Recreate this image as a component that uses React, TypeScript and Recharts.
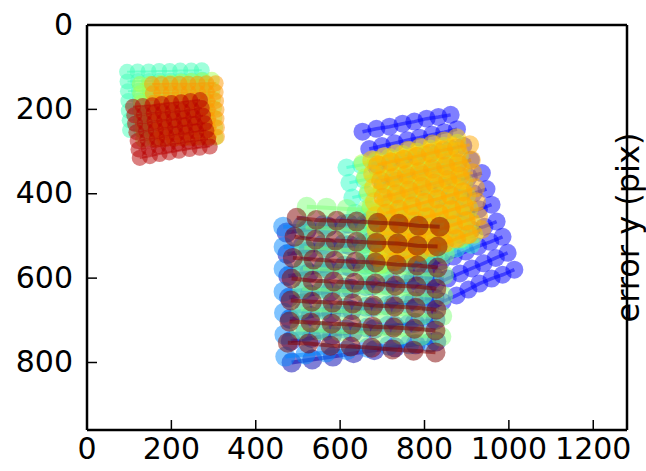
import { Scatter, ScatterChart, XAxis, YAxis } from "recharts";

const xTicks = [0, 200, 400, 600, 800, 1000, 1200];
const yTicks = [0, 200, 400, 600, 800];

// each inner array is one row of the grid
const deepBlueX = [
  [473, 522, 571, 620, 670, 719, 768, 817],
  [475, 524, 573, 622, 672, 721, 770, 819],
  [477, 526, 575, 624, 674, 723, 772, 821],
  [479, 528, 577, 626, 676, 725, 774, 823],
  [481, 530, 579, 628, 677, 726, 775, 824],
  [483, 532, 581, 630, 680, 729, 777, 826],
  [485, 534, 583, 632, 681, 730, 779, 828],
];
const deepBlueY = [
  [492, 485, 478, 471, 464, 457, 450, 443],
  [543, 536, 529, 522, 515, 508, 501, 494],
  [595, 588, 581, 574, 567, 560, 553, 546],
  [646, 639, 632, 625, 618, 611, 604, 597],
  [697, 690, 683, 676, 669, 662, 655, 648],
  [749, 742, 735, 728, 721, 713, 706, 699],
  [800, 793, 786, 778, 771, 764, 757, 750],
];

const blueX = [
  [653, 686, 717, 748, 776, 805, 833, 862],
  [669, 699, 729, 759, 788, 818, 847, 877],
  [685, 715, 744, 774, 803, 833, 862, 892],
  [701, 731, 761, 791, 820, 850, 880, 910],
  [717, 748, 780, 811, 842, 873, 905, 936],
  [733, 764, 794, 825, 855, 886, 916, 947],
  [750, 780, 810, 840, 869, 899, 929, 959],
  [766, 795, 825, 854, 883, 912, 942, 971],
  [782, 811, 840, 869, 898, 927, 956, 985],
  [798, 827, 855, 884, 912, 940, 969, 997],
  [814, 843, 876, 904, 930, 959, 985, 1013],
];
const blueY = [
  [253, 246, 241, 234, 229, 222, 218, 213],
  [294, 287, 280, 273, 267, 260, 254, 247],
  [336, 329, 322, 315, 307, 300, 293, 286],
  [377, 369, 361, 353, 344, 336, 328, 320],
  [419, 409, 399, 390, 380, 370, 360, 351],
  [460, 450, 440, 430, 419, 409, 399, 389],
  [501, 490, 479, 469, 458, 447, 437, 426],
  [543, 532, 520, 508, 497, 485, 478, 466],
  [584, 572, 560, 549, 537, 525, 514, 502],
  [626, 614, 601, 589, 577, 565, 552, 540],
  [667, 656, 641, 627, 613, 601, 592, 580],
];

const skyX = [
  [465, 511, 560, 610, 659, 708, 758, 807],
  [466, 511, 558, 608, 657, 707, 757, 808],
  [466, 513, 561, 610, 660, 710, 759, 809],
  [466, 514, 561, 611, 661, 711, 760, 810],
  [467, 515, 563, 613, 662, 712, 761, 811],
  [468, 517, 565, 614, 664, 713, 763, 812],
  [470, 518, 567, 616, 665, 715, 764, 813],
];
const skyY = [
  [478, 476, 474, 472, 472, 470, 468, 466],
  [526, 524, 521, 519, 519, 517, 516, 514],
  [578, 575, 572, 570, 568, 566, 564, 562],
  [632, 628, 625, 622, 619, 616, 613, 610],
  [682, 678, 674, 670, 668, 665, 661, 657],
  [734, 730, 725, 721, 717, 713, 709, 705],
  [786, 781, 776, 771, 765, 760, 757, 753],
];

const cyanX = [
  [615, 650, 685, 720, 754, 789, 824, 859],
  [622, 657, 692, 727, 761, 796, 831, 866],
  [629, 664, 699, 734, 769, 804, 839, 874],
  [636, 671, 706, 741, 776, 811, 846, 881],
  [644, 679, 714, 749, 784, 819, 854, 889],
  [651, 686, 721, 756, 791, 826, 861, 896],
  [658, 693, 728, 763, 799, 834, 869, 904],
  [665, 700, 735, 770, 806, 841, 876, 911],
];
const cyanY = [
  [338, 332, 326, 320, 314, 308, 302, 296],
  [374, 367, 360, 354, 348, 341, 335, 328],
  [409, 402, 395, 388, 381, 374, 367, 360],
  [445, 437, 429, 422, 415, 407, 400, 392],
  [480, 472, 464, 456, 449, 441, 433, 425],
  [516, 507, 499, 491, 482, 474, 465, 457],
  [551, 542, 533, 524, 516, 507, 498, 489],
  [587, 577, 568, 558, 549, 540, 530, 521],
];

const tealX = [
  [95, 120, 146, 171, 196, 221, 247, 272],
  [96, 121, 147, 172, 198, 223, 249, 274],
  [97, 123, 148, 174, 199, 225, 250, 276],
  [98, 124, 150, 175, 201, 227, 252, 278],
  [99, 125, 151, 177, 202, 228, 254, 280],
  [101, 127, 152, 178, 204, 230, 256, 282],
  [102, 128, 154, 180, 206, 232, 258, 284],
];
const tealY = [
  [111, 110, 110, 109, 109, 108, 108, 107],
  [134, 133, 133, 132, 132, 131, 131, 130],
  [157, 156, 156, 155, 155, 154, 154, 153],
  [180, 179, 179, 178, 178, 177, 177, 176],
  [203, 202, 202, 201, 201, 200, 200, 199],
  [226, 225, 224, 224, 223, 222, 222, 221],
  [249, 248, 247, 247, 246, 245, 245, 244],
];

const greenX = [
  [521, 568, 616, 663, 710, 758, 805, 852],
  [518, 565, 613, 660, 708, 755, 803, 850],
  [515, 563, 610, 658, 705, 753, 800, 848],
  [512, 560, 608, 655, 703, 751, 798, 846],
  [510, 558, 605, 653, 701, 749, 796, 844],
  [507, 555, 603, 651, 698, 746, 794, 842],
  [504, 552, 600, 648, 696, 744, 792, 840],
];
const greenY = [
  [431, 433, 436, 438, 440, 442, 445, 447],
  [480, 482, 485, 487, 489, 491, 494, 496],
  [528, 530, 533, 535, 537, 539, 542, 544],
  [577, 579, 582, 584, 586, 588, 591, 593],
  [625, 627, 630, 632, 635, 637, 640, 642],
  [674, 676, 678, 681, 683, 685, 688, 690],
  [722, 724, 727, 729, 732, 734, 737, 739],
];

const limeLeftX = [
  [125, 149, 174, 198, 223, 247, 272, 296],
  [126, 151, 175, 200, 224, 249, 273, 298],
  [128, 152, 177, 201, 226, 250, 275, 299],
  [129, 153, 178, 203, 227, 252, 276, 301],
  [130, 155, 179, 204, 229, 253, 278, 302],
  [132, 156, 181, 205, 230, 255, 279, 304],
  [133, 158, 182, 207, 231, 256, 280, 305],
];
const limeLeftY = [
  [140, 139, 137, 136, 134, 133, 131, 130],
  [162, 161, 160, 158, 157, 155, 154, 153],
  [184, 183, 182, 180, 179, 177, 176, 175],
  [206, 205, 204, 202, 201, 199, 198, 197],
  [228, 227, 226, 224, 223, 222, 221, 220],
  [250, 249, 248, 246, 245, 244, 244, 243],
  [272, 271, 270, 270, 269, 268, 268, 267],
];

const limeX = [
  [653, 685, 717, 749, 782, 814, 846, 878],
  [659, 691, 723, 755, 788, 820, 852, 884],
  [666, 698, 729, 761, 793, 825, 857, 889],
  [672, 704, 735, 767, 800, 832, 864, 895],
  [679, 711, 742, 774, 806, 838, 870, 901],
  [685, 717, 748, 781, 813, 845, 876, 907],
  [692, 723, 754, 786, 818, 849, 881, 912],
  [698, 729, 760, 792, 824, 855, 887, 918],
];
const limeY = [
  [327, 320, 313, 306, 300, 293, 286, 279],
  [361, 354, 346, 339, 332, 325, 317, 310],
  [396, 388, 380, 372, 365, 357, 349, 341],
  [430, 422, 413, 405, 397, 389, 380, 372],
  [465, 456, 447, 439, 430, 421, 413, 404],
  [499, 490, 481, 472, 462, 453, 444, 435],
  [534, 524, 514, 505, 495, 485, 476, 466],
  [568, 558, 548, 538, 527, 517, 507, 497],
];

const amberX = [
  [675, 704, 732, 761, 790, 819, 847, 876],
  [677, 706, 735, 764, 793, 822, 851, 880],
  [679, 708, 738, 767, 796, 825, 855, 884],
  [681, 710, 740, 769, 798, 828, 857, 887],
  [683, 713, 742, 772, 802, 831, 861, 891],
  [685, 715, 745, 775, 805, 835, 865, 895],
  [687, 717, 747, 777, 807, 837, 868, 898],
  [689, 719, 750, 780, 811, 841, 872, 902],
];
const amberY = [
  [320, 312, 305, 297, 290, 282, 275, 267],
  [353, 345, 337, 330, 322, 315, 307, 300],
  [386, 379, 371, 364, 356, 349, 341, 334],
  [419, 412, 404, 397, 389, 382, 374, 367],
  [452, 445, 437, 429, 421, 413, 405, 397],
  [485, 477, 469, 461, 454, 446, 438, 430],
  [518, 511, 503, 495, 487, 480, 472, 464],
  [551, 543, 535, 527, 521, 513, 505, 497],
];

const orangeX = [
  [689, 720, 751, 782, 814, 845, 876, 907],
  [696, 727, 757, 788, 819, 850, 880, 911],
  [702, 733, 763, 794, 824, 855, 884, 914],
  [709, 739, 770, 800, 830, 861, 891, 921],
  [716, 746, 775, 805, 835, 864, 894, 923],
  [722, 752, 781, 811, 840, 869, 899, 928],
  [729, 758, 788, 817, 847, 876, 906, 935],
];
const orangeY = [
  [331, 324, 318, 311, 304, 297, 291, 284],
  [369, 362, 355, 348, 341, 334, 327, 320],
  [408, 400, 391, 383, 375, 367, 358, 350],
  [446, 437, 429, 420, 412, 403, 395, 386],
  [484, 474, 465, 455, 448, 438, 429, 419],
  [523, 513, 503, 493, 484, 474, 464, 454],
  [561, 550, 539, 528, 518, 507, 496, 485],
];

const orangeLeftX = [
  [154, 176, 197, 219, 240, 262, 283, 305],
  [156, 177, 199, 220, 241, 263, 284, 305],
  [158, 179, 200, 221, 243, 264, 285, 306],
  [159, 181, 202, 223, 244, 265, 286, 307],
  [161, 182, 203, 224, 245, 266, 287, 307],
  [163, 184, 205, 226, 246, 267, 287, 308],
  [165, 186, 206, 227, 247, 268, 288, 308],
];
const orangeLeftY = [
  [140, 140, 139, 139, 139, 139, 138, 138],
  [162, 161, 161, 160, 160, 160, 159, 159],
  [184, 184, 183, 182, 182, 181, 181, 180],
  [206, 205, 204, 203, 203, 202, 201, 201],
  [228, 227, 226, 225, 225, 224, 223, 222],
  [250, 249, 248, 247, 246, 245, 244, 243],
  [272, 271, 270, 269, 268, 267, 266, 265],
];

const redX = [
  [109, 132, 155, 177, 200, 223, 245, 268],
  [112, 135, 158, 180, 203, 226, 249, 272],
  [114, 137, 160, 183, 206, 229, 252, 275],
  [117, 140, 163, 186, 209, 232, 256, 279],
  [120, 143, 166, 189, 212, 235, 259, 283],
  [122, 146, 169, 192, 215, 239, 263, 287],
  [125, 149, 172, 195, 218, 243, 267, 291],
];
const redY = [
  [194, 192, 190, 187, 185, 183, 180, 178],
  [214, 212, 209, 207, 205, 203, 200, 197],
  [234, 232, 229, 226, 224, 221, 218, 215],
  [254, 251, 248, 245, 242, 239, 236, 233],
  [275, 271, 268, 264, 260, 257, 253, 250],
  [295, 291, 287, 284, 280, 276, 273, 270],
  [315, 311, 306, 302, 298, 294, 291, 288],
];

const maroonX = [
  [497, 544, 592, 639, 689, 739, 786, 836],
  [492, 542, 589, 639, 686, 736, 783, 831],
  [488, 537, 587, 637, 684, 734, 783, 831],
  [485, 535, 585, 634, 684, 731, 781, 828],
  [483, 533, 582, 630, 679, 729, 779, 828],
  [480, 530, 580, 627, 677, 727, 776, 826],
  [476, 525, 577, 625, 675, 724, 774, 826],
];
const maroonY = [
  [457, 462, 464, 466, 469, 471, 476, 478],
  [502, 509, 511, 514, 516, 518, 523, 525],
  [552, 556, 559, 561, 563, 568, 570, 575],
  [601, 606, 608, 611, 613, 618, 620, 625],
  [653, 656, 658, 660, 665, 667, 670, 675],
  [703, 705, 708, 710, 715, 717, 720, 724],
  [753, 755, 760, 762, 765, 769, 772, 776],
];

const grids = [
  { color: "#0000b0", xs: deepBlueX, ys: deepBlueY, r: 10, line: 4 },
  { color: "#0000ff", xs: blueX, ys: blueY, r: 9, line: 3.5 },
  { color: "#0088ff", xs: skyX, ys: skyY, r: 10, line: 4 },
  { color: "#30ffc8", xs: cyanX, ys: cyanY, r: 9, line: 3 },
  { color: "#40ffb8", xs: tealX, ys: tealY, r: 8, line: 2 },
  { color: "#80ff7a", xs: greenX, ys: greenY, r: 10, line: 4 },
  { color: "#a6ff50", xs: limeLeftX, ys: limeLeftY, r: 8, line: 2 },
  { color: "#b4ff44", xs: limeX, ys: limeY, r: 9, line: 3 },
  { color: "#ffc800", xs: amberX, ys: amberY, r: 9.5, line: 3 },
  { color: "#ffa800", xs: orangeX, ys: orangeY, r: 9.5, line: 3 },
  { color: "#ff9800", xs: orangeLeftX, ys: orangeLeftY, r: 8, line: 2 },
  { color: "#b80000", xs: redX, ys: redY, r: 8, line: 2 },
  { color: "#800000", xs: maroonX, ys: maroonY, r: 10, line: 4 },
];

const tickFont = { fontFamily: "DejaVu Sans", fontSize: 30, fill: "#000" };
const spine = { stroke: "#000", strokeWidth: 2.5 };
const tickMark = { stroke: "#000", strokeWidth: 1.5 };
const noLabel = () => "";

export default function App() {
  return (
    <div style={{ position: "absolute", left: 0, top: 0 }}>
      <ScatterChart
        width={646}
        height={471}
        margin={{ top: 0, right: 0, bottom: 0, left: 0 }}
      >
        <XAxis
          type="number"
          dataKey="x"
          domain={[0, 1280]}
          ticks={xTicks}
          interval={0}
          height={41}
          tickSize={-10}
          tickMargin={18}
          tick={tickFont}
          axisLine={spine}
          tickLine={tickMark}
        />
        <XAxis
          xAxisId="top"
          orientation="top"
          type="number"
          domain={[0, 1280]}
          ticks={xTicks}
          interval={0}
          height={25}
          tickSize={-10}
          tickFormatter={noLabel}
          axisLine={spine}
          tickLine={tickMark}
        />
        <YAxis
          type="number"
          dataKey="y"
          reversed
          domain={[0, 960]}
          ticks={yTicks}
          interval={0}
          width={87}
          tickSize={-10}
          tickMargin={24}
          tick={{ ...tickFont, dy: -1 }}
          axisLine={spine}
          tickLine={tickMark}
        />
        <YAxis
          yAxisId="right"
          orientation="right"
          type="number"
          reversed
          domain={[0, 960]}
          ticks={yTicks}
          interval={0}
          width={19}
          tickSize={-10}
          tickFormatter={noLabel}
          axisLine={spine}
          tickLine={tickMark}
          label={{
            value: "error y (pix)",
            angle: -90,
            position: "center",
            dx: -9,
            dy: 0,
            style: { fontFamily: "DejaVu Sans", fontSize: 32, fill: "#000" },
          }}
        />
        {grids.flatMap((grid, g) =>
          grid.xs.map((rowX, r) => (
            <Scatter
              key={`${g}-${r}`}
              data={rowX.map((x, i) => ({ x, y: grid.ys[r][i] }))}
              isAnimationActive={false}
              line={{ stroke: grid.color, strokeWidth: grid.line, strokeOpacity: 0.5 }}
              lineType="joint"
              shape={(p: any) => (
                <circle cx={p.cx} cy={p.cy} r={grid.r} fill={grid.color} fillOpacity={0.5} />
              )}
            />
          ))
        )}
      </ScatterChart>
    </div>
  );
}
